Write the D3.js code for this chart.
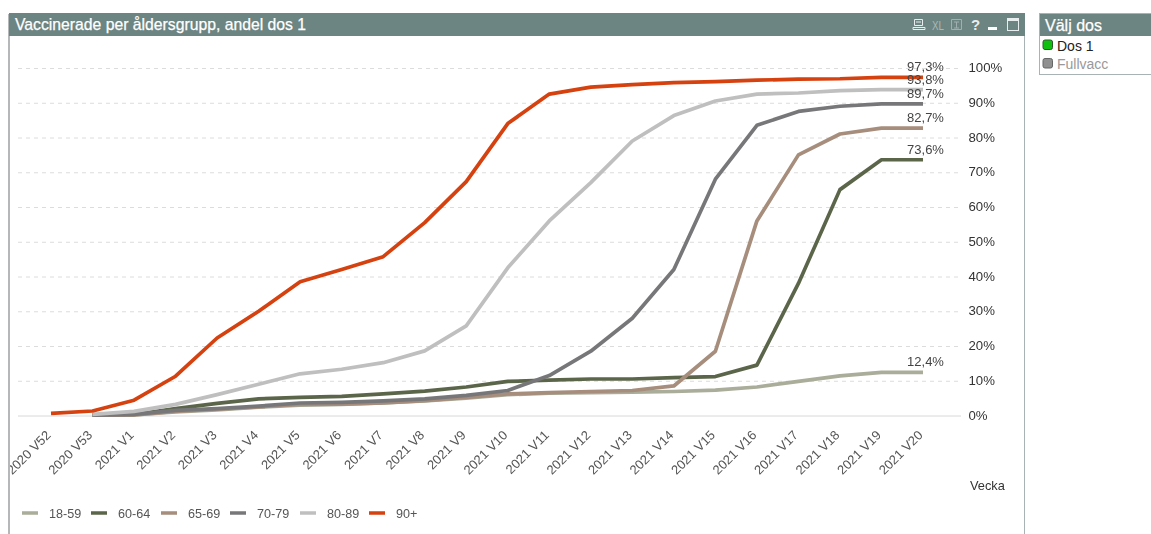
<!DOCTYPE html>
<html><head><meta charset="utf-8">
<script src="https://cdn.jsdelivr.net/npm/d3@7"></script>
<style>html,body{margin:0;padding:0;background:#fff;overflow:hidden}svg{display:block;font-family:"Liberation Sans",Arial,sans-serif;filter:blur(0.4px)}</style>
</head><body><svg id="c" width="1151" height="534"></svg>
<script>
const weeks = ["2020 V52","2020 V53","2021 V1","2021 V2","2021 V3","2021 V4","2021 V5","2021 V6","2021 V7","2021 V8","2021 V9","2021 V10","2021 V11","2021 V12","2021 V13","2021 V14","2021 V15","2021 V16","2021 V17","2021 V18","2021 V19","2021 V20"];
const ageGroups = ["18-59","60-64","65-69","70-79","80-89","90+"];
const colors = ["#a9ad99","#5b6549","#a68d7c","#77777a","#bfbfbf","#d5410f"];
const v1859 = [null,0.1,0.2,1,1.6,2.4,3,3.2,3.6,4.2,5,6,6.4,6.6,6.7,6.9,7.3,8.2,9.8,11.4,12.4,12.4];
const v6064 = [null,0.1,0.3,2,3.5,4.8,5.2,5.5,6.2,7,8.2,9.8,10.2,10.5,10.5,10.9,11.2,14.5,38,65,73.6,73.6];
const v6569 = [null,0.1,0.2,1.2,1.8,2.5,3.2,3.3,3.6,4.3,5.2,6.2,6.6,6.9,7.2,8.5,18.5,56,75,81,82.7,82.7];
const v7079 = [null,0.1,0.3,1.5,2,2.7,3.6,3.8,4.2,4.8,5.8,7.2,11.5,18.5,28,42,68,83.5,87.5,89,89.7,89.7];
const v8089 = [null,0.3,1.2,3.2,6,9,12,13.3,15.2,18.6,25.8,42.5,56,67,79,86.3,90.5,92.5,92.8,93.5,93.8,93.8];
const v90 = [0.6,1.3,4.4,11.3,22.3,30,38.5,42,45.7,55.5,67.3,84,92.5,94.5,95.2,95.8,96.1,96.5,96.8,96.9,97.3,97.3];
const seriesValues = [v1859,v6064,v6569,v7079,v8089,v90];
const yTicks = [0,10,20,30,40,50,60,70,80,90,100];
const endLabels = ["12,4%","73,6%","82,7%","89,7%","93,8%","97,3%"];

const svg = d3.select("#c");
const x = d3.scalePoint().domain(weeks).range([51,923]);
const y = d3.scaleLinear().domain([0,100]).range([415.5,68]);

// frames
const hdr = "#6c8482";
svg.append("path").attr("d","M9 14V534").attr("stroke","#b4b8b8").attr("stroke-width",2).attr("fill","none");
svg.append("path").attr("d","M1024.5 14V534").attr("stroke","#a9b3b3").attr("fill","none");
svg.append("rect").attr("x",9).attr("y",13).attr("width",1016).attr("height",23).attr("fill",hdr);
svg.append("text").attr("x",15).attr("y",29.5).attr("fill","#fff").attr("font-size",16.2).attr("stroke","#fff").attr("stroke-width",0.25)
  .attr("textLength",291).attr("lengthAdjust","spacingAndGlyphs").text("Vaccinerade per åldersgrupp, andel dos 1");

// header icons
const ic = svg.append("g").attr("fill","none").attr("stroke","#e8eeee");
ic.append("path").attr("d","M914.5 19.5h8v6h-8zM913 27.5h12v2h-12zM916 22h5");
svg.append("text").attr("x",932).attr("y",30).attr("fill","#a9b8b7").attr("font-size",12).attr("textLength",12).attr("lengthAdjust","spacingAndGlyphs").text("XL");
ic.append("path").attr("d","M951.5 19.5h10v10h-10zM954 22h5M956.5 22v6M954 28h5").attr("stroke","#9fb0af");
svg.append("text").attr("x",971).attr("y",30).attr("fill","#e8eeee").attr("font-size",15).attr("font-weight","bold").text("?");
svg.append("rect").attr("x",988).attr("y",27).attr("width",9).attr("height",3).attr("fill","#fff");
ic.append("rect").attr("x",1007.5).attr("y",18.5).attr("width",11).attr("height",12);
ic.append("rect").attr("x",1007.5).attr("y",18.5).attr("width",11).attr("height",2).attr("fill","#e8eeee");

// grid
svg.append("g").selectAll("line").data(yTicks).join("line")
  .attr("x1",18).attr("x2",961).attr("y1",d=>y(d)+.5).attr("y2",d=>y(d)+.5)
  .attr("stroke",d=>d===0?"#d8d8d8":"#dcdcdc").attr("stroke-dasharray",d=>d===0?null:"4 4");

// y axis
const yAxis = d3.axisRight(y).tickValues(yTicks).tickFormat(d=>d+"%").tickSize(0).tickPadding(0);
const gy = svg.append("g").attr("transform","translate(968.5,-0.5)").call(yAxis);
gy.select(".domain").remove();
gy.selectAll("text").attr("font-size",13.2).attr("font-family","Liberation Sans").attr("fill","#333");

// x axis
svg.append("defs").append("clipPath").attr("id","cl").append("rect").attr("x",10).attr("y",36).attr("width",1014).attr("height",498);
const xAxis = d3.axisBottom(x).tickSize(0).tickPadding(0);
const gx = svg.append("g").attr("clip-path","url(#cl)").append("g").attr("transform","translate(0,424)").call(xAxis);
gx.select(".domain").remove();
gx.selectAll("text").attr("font-size",13).attr("font-family","Liberation Sans").attr("fill","#555")
  .attr("text-anchor","end").attr("dy",0).attr("transform","translate(0,12) rotate(-45)");

svg.append("text").attr("x",970).attr("y",489.5).attr("font-size",12.8).attr("fill","#333").text("Vecka");

// lines
const line = d3.line().defined(d=>d!==null).x((d,i)=>x(weeks[i])).y(d=>y(d));
svg.append("g").selectAll("path").data(seriesValues).join("path")
  .attr("d",line).attr("fill","none").attr("stroke",(d,i)=>colors[i]).attr("stroke-width",3.7).attr("stroke-linejoin","round");

// end labels
svg.append("g").selectAll("text").data(seriesValues).join("text")
  .attr("x",925.5).attr("y",d=>y(d[d.length-1])-6).attr("text-anchor","middle")
  .attr("font-size",13).attr("fill","#444").text((d,i)=>endLabels[i]);

// legend
const lgX = [22,91,161,230,300,369];
const lg = svg.append("g").selectAll("g").data(ageGroups).join("g").attr("transform",(d,i)=>`translate(${lgX[i]},513)`);
lg.append("line").attr("x2",16).attr("stroke",(d,i)=>colors[i]).attr("stroke-width",3.5);
lg.append("text").attr("x",27).attr("y",4.5).attr("font-size",12.6).attr("fill","#555").text(d=>d);

// Välj dos box
svg.append("rect").attr("x",1039.5).attr("y",13.5).attr("width",112).attr("height",61).attr("fill","#fff").attr("stroke","#a9b3b3");
svg.append("rect").attr("x",1040).attr("y",14).attr("width",111).attr("height",22).attr("fill",hdr);
svg.append("text").attr("x",1045).attr("y",30.5).attr("fill","#fff").attr("font-size",16).attr("stroke","#fff").attr("stroke-width",0.25).text("Välj dos");
svg.append("rect").attr("x",1043).attr("y",40).attr("width",9.5).attr("height",9.5).attr("rx",2).attr("fill","#10c010").attr("stroke","#2a5a2a");
svg.append("text").attr("x",1057).attr("y",51).attr("fill","#222").attr("font-size",14).text("Dos 1");
svg.append("rect").attr("x",1043).attr("y",58.5).attr("width",9.5).attr("height",9.5).attr("rx",2).attr("fill","#909090").attr("stroke","#666");
svg.append("text").attr("x",1057).attr("y",69).attr("fill","#999").attr("font-size",14).text("Fullvacc");
</script></body></html>
